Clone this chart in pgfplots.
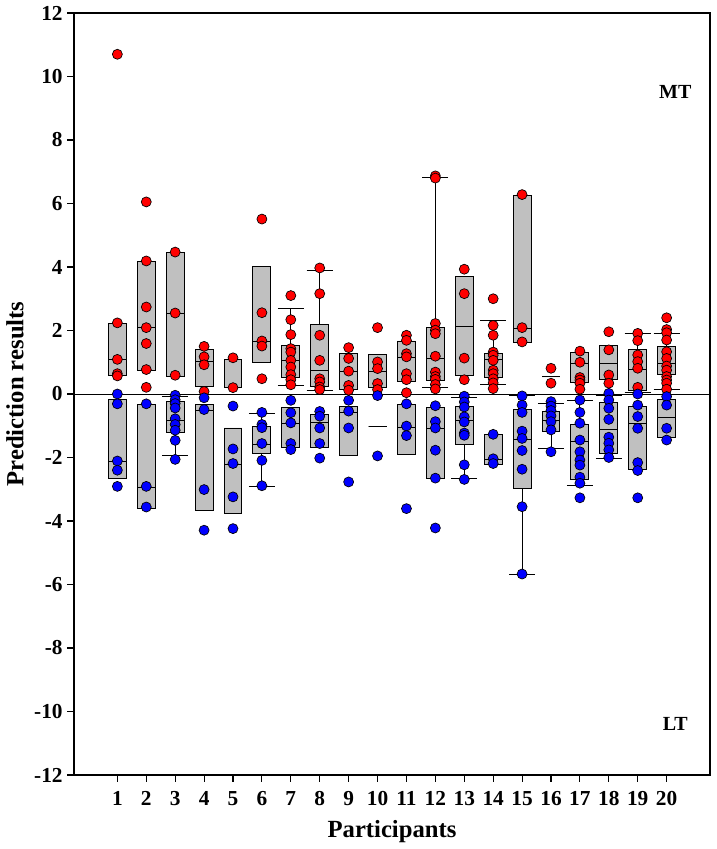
\documentclass[border=0pt]{standalone}
\usepackage{fontspec}
\setmainfont{Liberation Serif}
\usepackage{pgfplots}
\pgfplotsset{compat=1.18}
\usepgfplotslibrary{statistics}
\definecolor{boxgray}{RGB}{192,192,192}
\definecolor{mred}{RGB}{255,0,0}
\definecolor{mblue}{RGB}{0,0,255}
% box with whiskers: pos, lw, lq, med, uq, uw
\newcommand{\bw}[6]{\addplot[boxplot prepared={draw direction=y, draw position=#1, lower whisker=#2, lower quartile=#3, median=#4, upper quartile=#5, upper whisker=#6, box extend=0.62, whisker extend=0.9}, fill=boxgray, draw=black, line width=0.7pt] coordinates {};}
% box without whiskers: pos, lq, med, uq
\newcommand{\bn}[4]{\addplot[boxplot prepared={draw direction=y, draw position=#1, lower whisker=#2, lower quartile=#2, median=#3, upper quartile=#4, upper whisker=#4, box extend=0.62, whisker extend=0.62}, fill=boxgray, draw=black, line width=0.7pt] coordinates {};}
\begin{document}
\begin{tikzpicture}
\begin{axis}[
  scale only axis, width=477pt, height=571.5pt,
  xmin=-0.5, xmax=21.5, ymin=-12, ymax=12,
  xtick={1,...,20}, ytick={-12,-10,...,12},
  tick align=outside, tick pos=left, major tick length=5pt,
  axis line style={black, line width=0.8pt},
  tick style={black, line width=0.8pt},
  /pgf/number format/assume math mode=true,
  ticklabel style={font=\fontsize{16}{19}\selectfont\bfseries},
  xticklabel style={yshift=-3.5pt},
  xlabel={Participants}, ylabel={Prediction results},
  label style={font=\fontsize{18.5}{22}\selectfont\bfseries},
  xlabel style={at={(axis description cs:0.5,-0.0745)}, anchor=center},
  ylabel style={at={(axis description cs:-0.093,0.5)}, anchor=center},
  clip=false,
]
\addplot[black, line width=0.7pt] coordinates {(-0.5,0) (21.5,0)};
% red (MT) boxes
\bn{1}{0.59}{1.09}{2.22}
\bn{2}{0.75}{2.08}{4.17}
\bn{3}{0.56}{2.53}{4.45}
\bn{4}{0.25}{1.03}{1.40}
\bn{5}{0.19}{1.10}{1.10}
\bn{6}{0.99}{1.66}{4.03}
\bw{7}{0.28}{0.51}{1.05}{1.53}{2.70}
\bw{8}{0.12}{0.24}{0.75}{2.18}{3.88}
\bn{9}{0.14}{0.71}{1.27}
\bn{10}{0.22}{0.72}{1.24}
\bn{11}{0.38}{1.14}{1.67}
\bw{12}{0.19}{0.43}{1.11}{2.09}{6.82}
\bn{13}{0.59}{2.13}{3.70}
\bw{14}{0.30}{0.51}{1.09}{1.29}{2.32}
\bn{15}{1.62}{2.07}{6.25}
\bn{16}{0.55}{0.55}{0.55}
\bn{17}{0.36}{0.97}{1.31}
\bn{18}{0.46}{0.97}{1.54}
\bw{19}{0.04}{0.10}{0.76}{1.41}{1.91}
\bw{20}{0.15}{0.60}{0.97}{1.49}{1.91}
% blue (LT) boxes
\bn{1}{-2.67}{-2.14}{-0.18}
\bn{2}{-3.59}{-2.93}{-0.33}
\bw{3}{-1.95}{-1.22}{-0.83}{-0.25}{-0.09}
\bn{4}{-3.66}{-0.51}{-0.33}
\bn{5}{-3.77}{-2.22}{-1.07}
\bw{6}{-2.91}{-1.86}{-1.59}{-1.01}{-0.60}
\bn{7}{-1.69}{-0.93}{-0.41}
\bn{8}{-1.69}{-0.91}{-0.64}
\bn{9}{-1.93}{-0.59}{-0.38}
\bn{10}{-1.02}{-1.02}{-1.02}
\bn{11}{-1.91}{-1.04}{-0.33}
\bn{12}{-2.67}{-1.09}{-0.41}
\bw{13}{-2.67}{-1.60}{-0.83}{-0.38}{-0.12}
\bn{14}{-2.23}{-2.07}{-1.28}
\bw{15}{-5.67}{-2.97}{-1.43}{-0.50}{-0.06}
\bw{16}{-1.73}{-1.17}{-0.82}{-0.56}{-0.29}
\bw{17}{-2.87}{-2.69}{-1.48}{-0.96}{-0.21}
\bw{18}{-2.03}{-1.87}{-1.11}{-0.26}{-0.06}
\bn{19}{-2.37}{-0.92}{-0.40}
\bn{20}{-1.36}{-0.73}{-0.17}
% red points
\addplot[only marks, mark=*, mark size=3.75pt, mark options={fill=mred, draw=black, line width=0.5pt}] coordinates {
(1,10.7) (1,2.24) (1,1.09) (1,0.64) (1,0.57)
(2,6.05) (2,4.19) (2,2.74) (2,2.09) (2,1.59) (2,0.77) (2,0.21)
(3,4.47) (3,2.55) (3,0.59)
(4,1.50) (4,1.17) (4,0.92) (4,0.08)
(5,1.14) (5,0.20)
(6,5.51) (6,2.56) (6,1.67) (6,1.51) (6,0.48)
(7,3.10) (7,2.34) (7,1.87) (7,1.43) (7,1.32) (7,1.06) (7,0.85) (7,0.61) (7,0.45) (7,0.29)
(8,3.97) (8,3.16) (8,1.85) (8,1.06) (8,0.48) (8,0.38) (8,0.22) (8,0.14)
(9,1.46) (9,1.12) (9,0.72) (9,0.27) (9,0.12)
(10,2.09) (10,1.01) (10,0.80) (10,0.33) (10,0.14)
(11,1.85) (11,1.69) (11,1.27) (11,1.17) (11,0.64) (11,0.45) (11,0.04)
(12,6.87) (12,6.80) (12,2.22) (12,2.01) (12,1.90) (12,1.19) (12,0.69) (12,0.55) (12,0.46) (12,0.30) (12,0.16)
(13,3.93) (13,3.16) (13,1.13) (13,0.45)
(14,3.00) (14,2.16) (14,1.85) (14,1.32) (14,1.22) (14,1.06) (14,0.75) (14,0.64) (14,0.48) (14,0.35) (14,0.17)
(15,6.28) (15,2.09) (15,1.64)
(16,0.81) (16,0.34)
(17,1.35) (17,1.00) (17,0.52) (17,0.44) (17,0.34) (17,0.15)
(18,1.96) (18,1.39) (18,0.60) (18,0.34)
(19,1.91) (19,1.68) (19,1.23) (19,1.02) (19,0.81) (19,0.21)
(20,2.40) (20,2.03) (20,1.93) (20,1.70) (20,1.33) (20,1.12) (20,0.88) (20,0.75) (20,0.55) (20,0.44) (20,0.34) (20,0.15)
};
% blue points
\addplot[only marks, mark=*, mark size=3.75pt, mark options={fill=mblue, draw=black, line width=0.5pt}] coordinates {
(1,0.00) (1,-0.31) (1,-2.11) (1,-2.40) (1,-2.91)
(2,-0.31) (2,-2.91) (2,-3.56)
(3,-0.04) (3,-0.18) (3,-0.30) (3,-0.44) (3,-0.78) (3,-0.96) (3,-1.14) (3,-1.46) (3,-2.06)
(4,-0.12) (4,-0.49) (4,-3.01) (4,-4.29)
(5,-0.38) (5,-1.73) (5,-2.19) (5,-3.24) (5,-4.24)
(6,-0.58) (6,-0.96) (6,-1.06) (6,-1.56) (6,-2.09) (6,-2.89)
(7,-0.20) (7,-0.59) (7,-0.91) (7,-1.56) (7,-1.75)
(8,-0.55) (8,-0.70) (8,-1.07) (8,-1.56) (8,-2.02)
(9,-0.20) (9,-0.54) (9,-1.07) (9,-2.77)
(10,-0.05) (10,-1.95)
(11,-0.31) (11,-1.01) (11,-1.31) (11,-3.61)
(12,-0.37) (12,-0.87) (12,-1.07) (12,-1.77) (12,-2.65) (12,-4.22)
(13,-0.07) (13,-0.25) (13,-0.41) (13,-0.72) (13,-0.88) (13,-1.23) (13,-1.30) (13,-2.23) (13,-2.69)
(14,-1.27) (14,-2.04) (14,-2.19)
(15,-0.06) (15,-0.35) (15,-0.58) (15,-1.17) (15,-1.40) (15,-1.78) (15,-2.37) (15,-3.55) (15,-5.67)
(16,-0.24) (16,-0.38) (16,-0.52) (16,-0.69) (16,-0.87) (16,-1.13) (16,-1.82)
(17,-0.19) (17,-0.58) (17,-0.92) (17,-1.45) (17,-1.82) (17,-2.08) (17,-2.24) (17,-2.62) (17,-2.81) (17,-3.27)
(18,0.02) (18,-0.19) (18,-0.45) (18,-0.80) (18,-1.36) (18,-1.55) (18,-1.76) (18,-2.00)
(19,0.00) (19,-0.35) (19,-0.71) (19,-1.08) (19,-2.16) (19,-2.41) (19,-3.27)
(20,-0.08) (20,-0.35) (20,-1.08) (20,-1.45)
};
\node[font=\fontsize{15}{18}\selectfont\bfseries] at (axis cs:20.3,9.5) {MT};
\node[font=\fontsize{15}{18}\selectfont\bfseries] at (axis cs:20.3,-10.4) {LT};
\end{axis}
\pgfresetboundingbox
\path[use as bounding box] ([xshift=-55.5pt,yshift=-55.5pt]current axis.south west) rectangle ([xshift=5.25pt,yshift=9.75pt]current axis.north east);
\end{tikzpicture}
\end{document}
